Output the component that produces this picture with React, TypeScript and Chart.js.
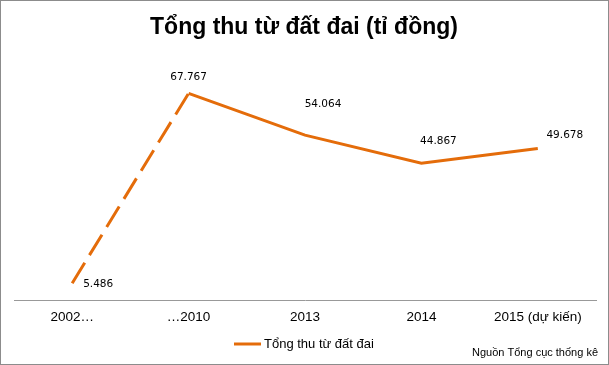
import React, { useEffect, useRef } from "react";
import { Chart, registerables } from "chart.js";
Chart.register(...registerables);

const categories = ["2002…", "…2010", "2013", "2014", "2015 (dự kiến)"];
const values = [5.486, 67.767, 54.064, 44.867, 49.678];
const seriesName = "Tổng thu từ đất đai";
const chartTitle = "Tổng thu từ đất đai (tỉ đồng)";
const sourceNote = "Nguồn Tổng cục thống kê";

// label placement offsets (style, not data)
const labelDx = [26, 0, 18, 17, 27];
const labelDy = [1, -16, -31, -22, -13];

const LINE_COLOR = "#E46C0A";

const decorPlugin = {
  id: "decor",
  afterDraw(chart: any) {
    const ctx = chart.ctx;
    const w = chart.width;
    const h = chart.height;
    ctx.save();
    // border
    ctx.strokeStyle = "#8c8c8c";
    ctx.lineWidth = 1;
    ctx.strokeRect(0.5, 0.5, w - 1, h - 1);
    // title
    ctx.fillStyle = "#000";
    ctx.font = "bold 23px 'Liberation Sans', Arial, sans-serif";
    ctx.textAlign = "center";
    ctx.textBaseline = "middle";
    ctx.fillText(chartTitle, 304, 28);
    // data labels
    const meta = chart.getDatasetMeta(0);
    ctx.font = "10.5px 'DejaVu Sans', Verdana, sans-serif";
    meta.data.forEach((pt: any, i: number) => {
      ctx.fillText(values[i].toFixed(3), pt.x + labelDx[i], pt.y + labelDy[i]);
    });
    // legend
    ctx.strokeStyle = LINE_COLOR;
    ctx.lineWidth = 3;
    ctx.beginPath();
    ctx.moveTo(234, 344);
    ctx.lineTo(261, 344);
    ctx.stroke();
    ctx.font = "13px 'Liberation Sans', Arial, sans-serif";
    ctx.textAlign = "left";
    ctx.fillText(seriesName, 264, 344);
    // source
    ctx.font = "11px 'Liberation Sans', Arial, sans-serif";
    ctx.textAlign = "right";
    ctx.fillText(sourceNote, 598, 353);
    ctx.restore();
  },
};

export default function App() {
  const ref = useRef<HTMLCanvasElement>(null);
  useEffect(() => {
    if (!ref.current) return;
    const chart = new Chart(ref.current, {
      type: "line",
      data: {
        labels: categories,
        datasets: [
          {
            label: seriesName,
            data: values,
            borderColor: LINE_COLOR,
            backgroundColor: LINE_COLOR,
            borderWidth: 3,
            pointRadius: 0,
            tension: 0,
            borderCapStyle: "butt",
            segment: {
              borderDash: (c: any) => (c.p0DataIndex === 0 ? [24, 9] : undefined),
            },
          },
        ],
      },
      options: {
        responsive: false,
        animation: false,
        layout: { padding: { left: 14, right: 13, top: 56, bottom: 0 } },
        plugins: {
          legend: { display: false },
          title: { display: false },
          tooltip: { enabled: false },
        },
        scales: {
          x: {
            offset: true,
            grid: { display: false, drawTicks: false },
            border: { display: true, color: "#999999", width: 1 },
            ticks: {
              color: "#000",
              padding: 9,
              font: { family: "'Liberation Sans', Arial, sans-serif", size: 13.5 },
              maxRotation: 0,
              autoSkip: false,
            },
            afterFit: (s: any) => {
              s.height = 65;
            },
          },
          y: {
            display: false,
            min: 0,
            max: 80,
          },
        },
      },
      plugins: [decorPlugin],
    } as any);
    return () => chart.destroy();
  }, []);
  return (
    <div style={{ position: "absolute", left: 0, top: 0, width: 609, height: 365, background: "#fff" }}>
      <canvas ref={ref} width={609} height={365} />
    </div>
  );
}
